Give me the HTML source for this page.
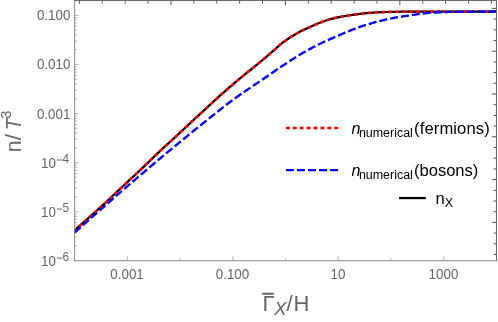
<!DOCTYPE html>
<html><head><meta charset="utf-8"><title>plot</title>
<style>
html,body{margin:0;padding:0;background:#fff;}
body{width:498px;height:322px;overflow:hidden;font-family:"Liberation Sans",sans-serif;}
svg{display:block;position:absolute;left:0;top:0;will-change:transform;}
text{font-family:"Liberation Sans",sans-serif;}
</style></head><body>
<svg width="498" height="322" viewBox="0 0 498 322">
<rect width="498" height="322" fill="#ffffff"/>
<defs><clipPath id="c"><rect x="74.6" y="0" width="422.4" height="260.7"/></clipPath></defs>
<g><line x1="74.6" y1="245.93" x2="77.20" y2="245.93" stroke="#a6a6a6" stroke-width="0.8"/>
<line x1="74.6" y1="237.29" x2="77.20" y2="237.29" stroke="#a6a6a6" stroke-width="0.8"/>
<line x1="74.6" y1="231.16" x2="77.20" y2="231.16" stroke="#a6a6a6" stroke-width="0.8"/>
<line x1="74.6" y1="226.41" x2="77.20" y2="226.41" stroke="#a6a6a6" stroke-width="0.8"/>
<line x1="74.6" y1="222.52" x2="77.20" y2="222.52" stroke="#a6a6a6" stroke-width="0.8"/>
<line x1="74.6" y1="219.24" x2="77.20" y2="219.24" stroke="#a6a6a6" stroke-width="0.8"/>
<line x1="74.6" y1="216.39" x2="77.20" y2="216.39" stroke="#a6a6a6" stroke-width="0.8"/>
<line x1="74.6" y1="213.88" x2="77.20" y2="213.88" stroke="#a6a6a6" stroke-width="0.8"/>
<line x1="74.6" y1="211.64" x2="78.90" y2="211.64" stroke="#a6a6a6" stroke-width="0.8"/>
<line x1="74.6" y1="196.87" x2="77.20" y2="196.87" stroke="#a6a6a6" stroke-width="0.8"/>
<line x1="74.6" y1="188.23" x2="77.20" y2="188.23" stroke="#a6a6a6" stroke-width="0.8"/>
<line x1="74.6" y1="182.10" x2="77.20" y2="182.10" stroke="#a6a6a6" stroke-width="0.8"/>
<line x1="74.6" y1="177.35" x2="77.20" y2="177.35" stroke="#a6a6a6" stroke-width="0.8"/>
<line x1="74.6" y1="173.46" x2="77.20" y2="173.46" stroke="#a6a6a6" stroke-width="0.8"/>
<line x1="74.6" y1="170.18" x2="77.20" y2="170.18" stroke="#a6a6a6" stroke-width="0.8"/>
<line x1="74.6" y1="167.33" x2="77.20" y2="167.33" stroke="#a6a6a6" stroke-width="0.8"/>
<line x1="74.6" y1="164.82" x2="77.20" y2="164.82" stroke="#a6a6a6" stroke-width="0.8"/>
<line x1="74.6" y1="162.58" x2="78.90" y2="162.58" stroke="#a6a6a6" stroke-width="0.8"/>
<line x1="74.6" y1="147.81" x2="77.20" y2="147.81" stroke="#a6a6a6" stroke-width="0.8"/>
<line x1="74.6" y1="139.17" x2="77.20" y2="139.17" stroke="#a6a6a6" stroke-width="0.8"/>
<line x1="74.6" y1="133.04" x2="77.20" y2="133.04" stroke="#a6a6a6" stroke-width="0.8"/>
<line x1="74.6" y1="128.29" x2="77.20" y2="128.29" stroke="#a6a6a6" stroke-width="0.8"/>
<line x1="74.6" y1="124.40" x2="77.20" y2="124.40" stroke="#a6a6a6" stroke-width="0.8"/>
<line x1="74.6" y1="121.12" x2="77.20" y2="121.12" stroke="#a6a6a6" stroke-width="0.8"/>
<line x1="74.6" y1="118.27" x2="77.20" y2="118.27" stroke="#a6a6a6" stroke-width="0.8"/>
<line x1="74.6" y1="115.76" x2="77.20" y2="115.76" stroke="#a6a6a6" stroke-width="0.8"/>
<line x1="74.6" y1="113.52" x2="78.90" y2="113.52" stroke="#a6a6a6" stroke-width="0.8"/>
<line x1="74.6" y1="98.75" x2="77.20" y2="98.75" stroke="#a6a6a6" stroke-width="0.8"/>
<line x1="74.6" y1="90.11" x2="77.20" y2="90.11" stroke="#a6a6a6" stroke-width="0.8"/>
<line x1="74.6" y1="83.98" x2="77.20" y2="83.98" stroke="#a6a6a6" stroke-width="0.8"/>
<line x1="74.6" y1="79.23" x2="77.20" y2="79.23" stroke="#a6a6a6" stroke-width="0.8"/>
<line x1="74.6" y1="75.34" x2="77.20" y2="75.34" stroke="#a6a6a6" stroke-width="0.8"/>
<line x1="74.6" y1="72.06" x2="77.20" y2="72.06" stroke="#a6a6a6" stroke-width="0.8"/>
<line x1="74.6" y1="69.21" x2="77.20" y2="69.21" stroke="#a6a6a6" stroke-width="0.8"/>
<line x1="74.6" y1="66.70" x2="77.20" y2="66.70" stroke="#a6a6a6" stroke-width="0.8"/>
<line x1="74.6" y1="64.46" x2="78.90" y2="64.46" stroke="#a6a6a6" stroke-width="0.8"/>
<line x1="74.6" y1="49.69" x2="77.20" y2="49.69" stroke="#a6a6a6" stroke-width="0.8"/>
<line x1="74.6" y1="41.05" x2="77.20" y2="41.05" stroke="#a6a6a6" stroke-width="0.8"/>
<line x1="74.6" y1="34.92" x2="77.20" y2="34.92" stroke="#a6a6a6" stroke-width="0.8"/>
<line x1="74.6" y1="30.17" x2="77.20" y2="30.17" stroke="#a6a6a6" stroke-width="0.8"/>
<line x1="74.6" y1="26.28" x2="77.20" y2="26.28" stroke="#a6a6a6" stroke-width="0.8"/>
<line x1="74.6" y1="23.00" x2="77.20" y2="23.00" stroke="#a6a6a6" stroke-width="0.8"/>
<line x1="74.6" y1="20.15" x2="77.20" y2="20.15" stroke="#a6a6a6" stroke-width="0.8"/>
<line x1="74.6" y1="17.64" x2="77.20" y2="17.64" stroke="#a6a6a6" stroke-width="0.8"/>
<line x1="74.6" y1="15.40" x2="78.90" y2="15.40" stroke="#a6a6a6" stroke-width="0.8"/>
<line x1="127.34" y1="260.7" x2="127.34" y2="256.40" stroke="#a6a6a6" stroke-width="0.8"/>
<line x1="180.07" y1="260.7" x2="180.07" y2="258.10" stroke="#a6a6a6" stroke-width="0.8"/>
<line x1="232.81" y1="260.7" x2="232.81" y2="256.40" stroke="#a6a6a6" stroke-width="0.8"/>
<line x1="285.55" y1="260.7" x2="285.55" y2="258.10" stroke="#a6a6a6" stroke-width="0.8"/>
<line x1="338.29" y1="260.7" x2="338.29" y2="256.40" stroke="#a6a6a6" stroke-width="0.8"/>
<line x1="391.02" y1="260.7" x2="391.02" y2="258.10" stroke="#a6a6a6" stroke-width="0.8"/>
<line x1="443.76" y1="260.7" x2="443.76" y2="256.40" stroke="#a6a6a6" stroke-width="0.8"/>
<line x1="79.40" y1="0.4" x2="79.40" y2="3.60" stroke="#4c4c4c" stroke-width="0.95"/>
<line x1="102.29" y1="0.4" x2="102.29" y2="3.60" stroke="#4c4c4c" stroke-width="0.95"/>
<line x1="125.18" y1="0.4" x2="125.18" y2="3.60" stroke="#4c4c4c" stroke-width="0.95"/>
<line x1="148.07" y1="0.4" x2="148.07" y2="3.60" stroke="#4c4c4c" stroke-width="0.95"/>
<line x1="170.96" y1="0.4" x2="170.96" y2="5.40" stroke="#4c4c4c" stroke-width="0.95"/>
<line x1="193.85" y1="0.4" x2="193.85" y2="3.60" stroke="#4c4c4c" stroke-width="0.95"/>
<line x1="216.74" y1="0.4" x2="216.74" y2="3.60" stroke="#4c4c4c" stroke-width="0.95"/>
<line x1="239.63" y1="0.4" x2="239.63" y2="3.60" stroke="#4c4c4c" stroke-width="0.95"/>
<line x1="262.52" y1="0.4" x2="262.52" y2="3.60" stroke="#4c4c4c" stroke-width="0.95"/>
<line x1="285.41" y1="0.4" x2="285.41" y2="5.40" stroke="#4c4c4c" stroke-width="0.95"/>
<line x1="308.30" y1="0.4" x2="308.30" y2="3.60" stroke="#4c4c4c" stroke-width="0.95"/>
<line x1="331.19" y1="0.4" x2="331.19" y2="3.60" stroke="#4c4c4c" stroke-width="0.95"/>
<line x1="354.08" y1="0.4" x2="354.08" y2="3.60" stroke="#4c4c4c" stroke-width="0.95"/>
<line x1="376.97" y1="0.4" x2="376.97" y2="3.60" stroke="#4c4c4c" stroke-width="0.95"/>
<line x1="399.86" y1="0.4" x2="399.86" y2="5.40" stroke="#4c4c4c" stroke-width="0.95"/>
<line x1="422.75" y1="0.4" x2="422.75" y2="3.60" stroke="#4c4c4c" stroke-width="0.95"/>
<line x1="445.64" y1="0.4" x2="445.64" y2="3.60" stroke="#4c4c4c" stroke-width="0.95"/>
<line x1="468.53" y1="0.4" x2="468.53" y2="3.60" stroke="#4c4c4c" stroke-width="0.95"/>
<line x1="491.42" y1="0.4" x2="491.42" y2="3.60" stroke="#4c4c4c" stroke-width="0.95"/>
<line x1="496.5" y1="8.40" x2="491.90" y2="8.40" stroke="#4c4c4c" stroke-width="0.95"/>
<line x1="496.5" y1="19.10" x2="493.50" y2="19.10" stroke="#4c4c4c" stroke-width="0.95"/>
<line x1="496.5" y1="29.80" x2="493.50" y2="29.80" stroke="#4c4c4c" stroke-width="0.95"/>
<line x1="496.5" y1="40.50" x2="493.50" y2="40.50" stroke="#4c4c4c" stroke-width="0.95"/>
<line x1="496.5" y1="51.20" x2="491.90" y2="51.20" stroke="#4c4c4c" stroke-width="0.95"/>
<line x1="496.5" y1="61.90" x2="493.50" y2="61.90" stroke="#4c4c4c" stroke-width="0.95"/>
<line x1="496.5" y1="72.60" x2="493.50" y2="72.60" stroke="#4c4c4c" stroke-width="0.95"/>
<line x1="496.5" y1="83.30" x2="493.50" y2="83.30" stroke="#4c4c4c" stroke-width="0.95"/>
<line x1="496.5" y1="94.00" x2="491.90" y2="94.00" stroke="#4c4c4c" stroke-width="0.95"/>
<line x1="496.5" y1="104.70" x2="493.50" y2="104.70" stroke="#4c4c4c" stroke-width="0.95"/>
<line x1="496.5" y1="115.40" x2="493.50" y2="115.40" stroke="#4c4c4c" stroke-width="0.95"/>
<line x1="496.5" y1="126.10" x2="493.50" y2="126.10" stroke="#4c4c4c" stroke-width="0.95"/>
<line x1="496.5" y1="136.80" x2="491.90" y2="136.80" stroke="#4c4c4c" stroke-width="0.95"/>
<line x1="496.5" y1="147.50" x2="493.50" y2="147.50" stroke="#4c4c4c" stroke-width="0.95"/>
<line x1="496.5" y1="158.20" x2="493.50" y2="158.20" stroke="#4c4c4c" stroke-width="0.95"/>
<line x1="496.5" y1="168.90" x2="493.50" y2="168.90" stroke="#4c4c4c" stroke-width="0.95"/>
<line x1="496.5" y1="179.60" x2="491.90" y2="179.60" stroke="#4c4c4c" stroke-width="0.95"/>
<line x1="496.5" y1="190.30" x2="493.50" y2="190.30" stroke="#4c4c4c" stroke-width="0.95"/>
<line x1="496.5" y1="201.00" x2="493.50" y2="201.00" stroke="#4c4c4c" stroke-width="0.95"/>
<line x1="496.5" y1="211.70" x2="493.50" y2="211.70" stroke="#4c4c4c" stroke-width="0.95"/>
<line x1="496.5" y1="222.40" x2="491.90" y2="222.40" stroke="#4c4c4c" stroke-width="0.95"/>
<line x1="496.5" y1="233.10" x2="493.50" y2="233.10" stroke="#4c4c4c" stroke-width="0.95"/>
<line x1="496.5" y1="243.80" x2="493.50" y2="243.80" stroke="#4c4c4c" stroke-width="0.95"/>
<line x1="496.5" y1="254.50" x2="493.50" y2="254.50" stroke="#4c4c4c" stroke-width="0.95"/></g>
<g clip-path="url(#c)" fill="none" stroke-linejoin="round">
<path d="M74.60,230.42 L76.60,228.63 L78.60,226.83 L80.60,225.04 L82.60,223.24 L84.60,221.45 L86.60,219.65 L88.60,217.86 L90.60,216.06 L92.60,214.28 L94.60,212.50 L96.60,210.72 L98.60,208.95 L100.60,207.16 L102.60,205.37 L104.60,203.56 L106.60,201.73 L108.60,199.86 L110.60,197.97 L112.60,196.04 L114.60,194.10 L116.60,192.16 L118.60,190.23 L120.60,188.33 L122.60,186.46 L124.60,184.59 L126.60,182.74 L128.60,180.90 L130.60,179.05 L132.60,177.21 L134.60,175.36 L136.60,173.50 L138.60,171.62 L140.60,169.73 L142.60,167.82 L144.60,165.88 L146.60,163.94 L148.60,161.99 L150.60,160.04 L152.60,158.09 L154.60,156.16 L156.60,154.26 L158.60,152.37 L160.60,150.51 L162.60,148.66 L164.60,146.83 L166.60,145.00 L168.60,143.17 L170.60,141.35 L172.60,139.52 L174.60,137.68 L176.60,135.83 L178.60,133.96 L180.60,132.09 L182.60,130.21 L184.60,128.33 L186.60,126.44 L188.60,124.56 L190.60,122.69 L192.60,120.82 L194.60,118.97 L196.60,117.14 L198.60,115.32 L200.60,113.50 L202.60,111.66 L204.60,109.81 L206.60,107.94 L208.60,106.08 L210.60,104.21 L212.60,102.35 L214.60,100.50 L216.60,98.67 L218.60,96.85 L220.60,95.07 L222.60,93.30 L224.60,91.54 L226.60,89.80 L228.60,88.07 L230.60,86.35 L232.60,84.64 L234.60,82.94 L236.60,81.25 L238.60,79.57 L240.60,77.90 L242.60,76.25 L244.60,74.61 L246.60,72.99 L248.60,71.38 L250.60,69.77 L252.60,68.17 L254.60,66.56 L256.60,64.94 L258.60,63.31 L260.60,61.66 L262.60,60.00 L264.60,58.33 L266.60,56.64 L268.60,54.94 L270.60,53.22 L272.60,51.47 L274.60,49.66 L276.60,47.84 L278.60,46.08 L280.60,44.35 L282.60,42.71 L284.60,41.25 L286.60,39.86 L288.60,38.50 L290.60,37.18 L292.60,35.91 L294.60,34.70 L296.60,33.53 L298.60,32.42 L300.60,31.36 L302.60,30.36 L304.60,29.42 L306.60,28.52 L308.60,27.62 L310.60,26.72 L312.60,25.82 L314.60,24.93 L316.60,24.07 L318.60,23.25 L320.60,22.47 L322.60,21.71 L324.60,20.98 L326.60,20.28 L328.60,19.64 L330.60,19.06 L332.60,18.54 L334.60,18.06 L336.60,17.62 L338.60,17.20 L340.60,16.80 L342.60,16.43 L344.60,16.09 L346.60,15.76 L348.60,15.44 L350.60,15.14 L352.60,14.84 L354.60,14.56 L356.60,14.29 L358.60,14.03 L360.60,13.79 L362.60,13.56 L364.60,13.33 L366.60,13.12 L368.60,12.92 L370.60,12.76 L372.60,12.62 L374.60,12.50 L376.60,12.39 L378.60,12.30 L380.60,12.21 L382.60,12.13 L384.60,12.06 L386.60,12.00 L388.60,11.94 L390.60,11.88 L392.60,11.84 L394.60,11.81 L396.60,11.78 L398.60,11.76 L400.60,11.73 L402.60,11.71 L404.60,11.69 L406.60,11.68 L408.60,11.66 L410.60,11.64 L412.60,11.63 L414.60,11.62 L416.60,11.61 L418.60,11.60 L420.60,11.60 L422.60,11.59 L424.60,11.59 L426.60,11.58 L428.60,11.58 L430.60,11.58 L432.60,11.57 L434.60,11.57 L436.60,11.57 L438.60,11.56 L440.60,11.56 L442.60,11.56 L444.60,11.56 L446.60,11.55 L448.60,11.55 L450.60,11.55 L452.60,11.55 L454.60,11.54 L456.60,11.54 L458.60,11.54 L460.60,11.54 L462.60,11.53 L464.60,11.53 L466.60,11.53 L468.60,11.53 L470.60,11.52 L472.60,11.52 L474.60,11.52 L476.60,11.52 L478.60,11.52 L480.60,11.51 L482.60,11.51 L484.60,11.51 L486.60,11.51 L488.60,11.51 L490.60,11.51 L492.60,11.50 L494.60,11.50 L496.60,11.50" stroke="#000" stroke-width="2.25"/>
<path d="M74.60,230.42 L76.60,228.63 L78.60,226.83 L80.60,225.04 L82.60,223.24 L84.60,221.45 L86.60,219.65 L88.60,217.86 L90.60,216.06 L92.60,214.28 L94.60,212.50 L96.60,210.72 L98.60,208.95 L100.60,207.16 L102.60,205.37 L104.60,203.56 L106.60,201.73 L108.60,199.86 L110.60,197.97 L112.60,196.04 L114.60,194.10 L116.60,192.16 L118.60,190.23 L120.60,188.33 L122.60,186.46 L124.60,184.59 L126.60,182.74 L128.60,180.90 L130.60,179.05 L132.60,177.21 L134.60,175.36 L136.60,173.50 L138.60,171.62 L140.60,169.73 L142.60,167.82 L144.60,165.88 L146.60,163.94 L148.60,161.99 L150.60,160.04 L152.60,158.09 L154.60,156.16 L156.60,154.26 L158.60,152.37 L160.60,150.51 L162.60,148.66 L164.60,146.83 L166.60,145.00 L168.60,143.17 L170.60,141.35 L172.60,139.52 L174.60,137.68 L176.60,135.83 L178.60,133.96 L180.60,132.09 L182.60,130.21 L184.60,128.33 L186.60,126.44 L188.60,124.56 L190.60,122.69 L192.60,120.82 L194.60,118.97 L196.60,117.14 L198.60,115.32 L200.60,113.50 L202.60,111.66 L204.60,109.81 L206.60,107.94 L208.60,106.08 L210.60,104.21 L212.60,102.35 L214.60,100.50 L216.60,98.67 L218.60,96.85 L220.60,95.07 L222.60,93.30 L224.60,91.54 L226.60,89.80 L228.60,88.07 L230.60,86.35 L232.60,84.64 L234.60,82.94 L236.60,81.25 L238.60,79.57 L240.60,77.90 L242.60,76.25 L244.60,74.61 L246.60,72.99 L248.60,71.38 L250.60,69.77 L252.60,68.17 L254.60,66.56 L256.60,64.94 L258.60,63.31 L260.60,61.66 L262.60,60.00 L264.60,58.33 L266.60,56.64 L268.60,54.94 L270.60,53.22 L272.60,51.47 L274.60,49.66 L276.60,47.84 L278.60,46.08 L280.60,44.35 L282.60,42.71 L284.60,41.25 L286.60,39.86 L288.60,38.50 L290.60,37.18 L292.60,35.91 L294.60,34.70 L296.60,33.53 L298.60,32.42 L300.60,31.36 L302.60,30.36 L304.60,29.42 L306.60,28.52 L308.60,27.62 L310.60,26.72 L312.60,25.82 L314.60,24.93 L316.60,24.07 L318.60,23.25 L320.60,22.47 L322.60,21.71 L324.60,20.98 L326.60,20.28 L328.60,19.64 L330.60,19.06 L332.60,18.54 L334.60,18.06 L336.60,17.62 L338.60,17.20 L340.60,16.80 L342.60,16.43 L344.60,16.09 L346.60,15.76 L348.60,15.44 L350.60,15.14 L352.60,14.84 L354.60,14.56 L356.60,14.29 L358.60,14.03 L360.60,13.79 L362.60,13.56 L364.60,13.33 L366.60,13.12 L368.60,12.92 L370.60,12.76 L372.60,12.62 L374.60,12.50 L376.60,12.39 L378.60,12.30 L380.60,12.21 L382.60,12.13 L384.60,12.06 L386.60,12.00 L388.60,11.94 L390.60,11.88 L392.60,11.84 L394.60,11.81 L396.60,11.78 L398.60,11.76 L400.60,11.73 L402.60,11.71 L404.60,11.69 L406.60,11.68 L408.60,11.66 L410.60,11.64 L412.60,11.63 L414.60,11.62 L416.60,11.61 L418.60,11.60 L420.60,11.60 L422.60,11.59 L424.60,11.59 L426.60,11.58 L428.60,11.58 L430.60,11.58 L432.60,11.57 L434.60,11.57 L436.60,11.57 L438.60,11.56 L440.60,11.56 L442.60,11.56 L444.60,11.56 L446.60,11.55 L448.60,11.55 L450.60,11.55 L452.60,11.55 L454.60,11.54 L456.60,11.54 L458.60,11.54 L460.60,11.54 L462.60,11.53 L464.60,11.53 L466.60,11.53 L468.60,11.53 L470.60,11.52 L472.60,11.52 L474.60,11.52 L476.60,11.52 L478.60,11.52 L480.60,11.51 L482.60,11.51 L484.60,11.51 L486.60,11.51 L488.60,11.51 L490.60,11.51 L492.60,11.50 L494.60,11.50 L496.60,11.50" stroke="#ff0000" stroke-width="2.6" stroke-dasharray="3.6 3.3" stroke-dashoffset="1"/>
<path d="M74.60,232.52 L76.60,230.76 L78.60,229.01 L80.60,227.25 L82.60,225.49 L84.60,223.73 L86.60,221.97 L88.60,220.21 L90.60,218.45 L92.60,216.69 L94.60,214.93 L96.60,213.16 L98.60,211.40 L100.60,209.64 L102.60,207.87 L104.60,206.10 L106.60,204.33 L108.60,202.55 L110.60,200.78 L112.60,199.00 L114.60,197.24 L116.60,195.49 L118.60,193.75 L120.60,192.02 L122.60,190.29 L124.60,188.57 L126.60,186.86 L128.60,185.14 L130.60,183.44 L132.60,181.73 L134.60,180.03 L136.60,178.33 L138.60,176.63 L140.60,174.93 L142.60,173.23 L144.60,171.53 L146.60,169.83 L148.60,168.12 L150.60,166.43 L152.60,164.73 L154.60,163.04 L156.60,161.35 L158.60,159.67 L160.60,158.00 L162.60,156.33 L164.60,154.67 L166.60,153.02 L168.60,151.37 L170.60,149.72 L172.60,148.08 L174.60,146.44 L176.60,144.80 L178.60,143.15 L180.60,141.51 L182.60,139.87 L184.60,138.22 L186.60,136.57 L188.60,134.92 L190.60,133.28 L192.60,131.65 L194.60,130.02 L196.60,128.41 L198.60,126.81 L200.60,125.22 L202.60,123.64 L204.60,122.05 L206.60,120.47 L208.60,118.88 L210.60,117.28 L212.60,115.68 L214.60,114.06 L216.60,112.45 L218.60,110.84 L220.60,109.24 L222.60,107.66 L224.60,106.09 L226.60,104.54 L228.60,103.02 L230.60,101.54 L232.60,100.07 L234.60,98.63 L236.60,97.20 L238.60,95.79 L240.60,94.38 L242.60,92.98 L244.60,91.60 L246.60,90.23 L248.60,88.87 L250.60,87.51 L252.60,86.16 L254.60,84.81 L256.60,83.46 L258.60,82.11 L260.60,80.76 L262.60,79.41 L264.60,78.05 L266.60,76.68 L268.60,75.31 L270.60,73.94 L272.60,72.57 L274.60,71.20 L276.60,69.84 L278.60,68.48 L280.60,67.13 L282.60,65.79 L284.60,64.46 L286.60,63.14 L288.60,61.82 L290.60,60.50 L292.60,59.19 L294.60,57.90 L296.60,56.63 L298.60,55.39 L300.60,54.20 L302.60,53.04 L304.60,51.90 L306.60,50.78 L308.60,49.68 L310.60,48.61 L312.60,47.55 L314.60,46.51 L316.60,45.49 L318.60,44.49 L320.60,43.51 L322.60,42.55 L324.60,41.62 L326.60,40.71 L328.60,39.81 L330.60,38.92 L332.60,38.05 L334.60,37.17 L336.60,36.31 L338.60,35.45 L340.60,34.60 L342.60,33.76 L344.60,32.93 L346.60,32.10 L348.60,31.28 L350.60,30.46 L352.60,29.63 L354.60,28.83 L356.60,28.05 L358.60,27.31 L360.60,26.62 L362.60,25.96 L364.60,25.32 L366.60,24.71 L368.60,24.11 L370.60,23.53 L372.60,22.96 L374.60,22.40 L376.60,21.85 L378.60,21.32 L380.60,20.80 L382.60,20.31 L384.60,19.85 L386.60,19.39 L388.60,18.96 L390.60,18.54 L392.60,18.14 L394.60,17.77 L396.60,17.43 L398.60,17.12 L400.60,16.83 L402.60,16.52 L404.60,16.20 L406.60,15.88 L408.60,15.56 L410.60,15.24 L412.60,14.93 L414.60,14.64 L416.60,14.35 L418.60,14.05 L420.60,13.76 L422.60,13.50 L424.60,13.27 L426.60,13.08 L428.60,12.94 L430.60,12.81 L432.60,12.70 L434.60,12.59 L436.60,12.49 L438.60,12.40 L440.60,12.29 L442.60,12.19 L444.60,12.10 L446.60,12.01 L448.60,11.94 L450.60,11.89 L452.60,11.84 L454.60,11.80 L456.60,11.76 L458.60,11.73 L460.60,11.70 L462.60,11.67 L464.60,11.65 L466.60,11.63 L468.60,11.61 L470.60,11.60 L472.60,11.58 L474.60,11.57 L476.60,11.56 L478.60,11.55 L480.60,11.54 L482.60,11.53 L484.60,11.53 L486.60,11.52 L488.60,11.51 L490.60,11.51 L492.60,11.50 L494.60,11.50 L496.60,11.50" stroke="#0000ff" stroke-width="2.35" stroke-dasharray="8 3"/>
</g>
<g fill="none">
<line x1="74.6" y1="0" x2="74.6" y2="261.2" stroke="#878787" stroke-width="1"/>
<line x1="74.1" y1="260.7" x2="497.0" y2="260.7" stroke="#8c8c8c" stroke-width="1"/>
<line x1="496.5" y1="0" x2="496.5" y2="261.2" stroke="#6e6e6e" stroke-width="1.1"/>
<rect x="74.1" y="0" width="422.9" height="0.9" fill="#5c5c5c"/>
</g>
<g><text transform="translate(70.40,20.40) scale(1,1.06)" text-anchor="end" font-size="13.4" fill="#666666">0.100</text>
<text transform="translate(70.40,69.46) scale(1,1.06)" text-anchor="end" font-size="13.4" fill="#666666">0.010</text>
<text transform="translate(70.40,118.52) scale(1,1.06)" text-anchor="end" font-size="13.4" fill="#666666">0.001</text>
<text transform="translate(41.00,167.98) scale(1,1.06)" text-anchor="start" font-size="13.4" fill="#666666">10</text>
<text transform="translate(62.40,162.78) scale(1,1.06)" text-anchor="start" font-size="11.8" fill="#666666">4</text>
<rect x="56.9" y="159.48" width="5.2" height="1.0" fill="#666666"/>
<text transform="translate(41.00,217.04) scale(1,1.06)" text-anchor="start" font-size="13.4" fill="#666666">10</text>
<text transform="translate(62.40,211.84) scale(1,1.06)" text-anchor="start" font-size="11.8" fill="#666666">5</text>
<rect x="56.9" y="208.54" width="5.2" height="1.0" fill="#666666"/>
<text transform="translate(41.00,266.10) scale(1,1.06)" text-anchor="start" font-size="13.4" fill="#666666">10</text>
<text transform="translate(62.40,260.90) scale(1,1.06)" text-anchor="start" font-size="11.8" fill="#666666">6</text>
<rect x="56.9" y="257.60" width="5.2" height="1.0" fill="#666666"/>
<text transform="translate(127.04,278.50) scale(1,1.06)" text-anchor="middle" font-size="13.4" fill="#666666">0.001</text>
<text transform="translate(232.51,278.50) scale(1,1.06)" text-anchor="middle" font-size="13.4" fill="#666666">0.100</text>
<text transform="translate(337.99,278.50) scale(1,1.06)" text-anchor="middle" font-size="13.4" fill="#666666">10</text>
<text transform="translate(443.46,278.50) scale(1,1.06)" text-anchor="middle" font-size="13.4" fill="#666666">1000</text></g>
<g fill="#666666">
<text transform="translate(20.8,152.3) rotate(-90)" font-size="21.2">n</text>
<text transform="translate(21.0,140.2) rotate(-90)" font-size="22.3">/</text>
<text transform="translate(20.8,130.6) rotate(-90)" font-size="21.2" font-style="italic">T</text>
<text transform="translate(10.9,118.7) rotate(-90)" font-size="14.8">3</text>
<text x="262.5" y="310.9" font-size="22">Γ</text>
<text x="274.2" y="315.4" font-size="18.2" font-style="italic">X</text>
<text x="286.6" y="310.9" font-size="22.3">/</text>
<text x="293.4" y="310.9" font-size="22">H</text>
<rect x="262.3" y="292.75" width="11.4" height="2.0"/>
</g>
<g fill="none">
<line x1="285.9" y1="128.05" x2="338.2" y2="128.05" stroke="#ff0000" stroke-width="2.45" stroke-dasharray="3.9 3.01"/>
<line x1="285.9" y1="170.1" x2="338.2" y2="170.1" stroke="#0000ff" stroke-width="2.45" stroke-dasharray="8 3.05"/>
<line x1="399.1" y1="198.05" x2="425.8" y2="198.05" stroke="#000" stroke-width="2.3"/>
</g>
<g fill="#000">
<text x="351.5" y="133.7" font-size="16.0" font-style="italic">n</text>
<text x="358.9" y="136.5" font-size="12.45">numerical</text>
<text x="414.1" y="133.7" font-size="16.6" letter-spacing="0.1">(fermions)</text>
<text x="351.5" y="175.8" font-size="16.0" font-style="italic">n</text>
<text x="358.9" y="178.6" font-size="12.45">numerical</text>
<text x="414.1" y="175.8" font-size="16.6" letter-spacing="-0.06">(bosons)</text>
<text x="435.6" y="203.6" font-size="16.6">n</text>
<text x="444.8" y="206.6" font-size="12.45">X</text>
</g>
</svg>
</body></html>
